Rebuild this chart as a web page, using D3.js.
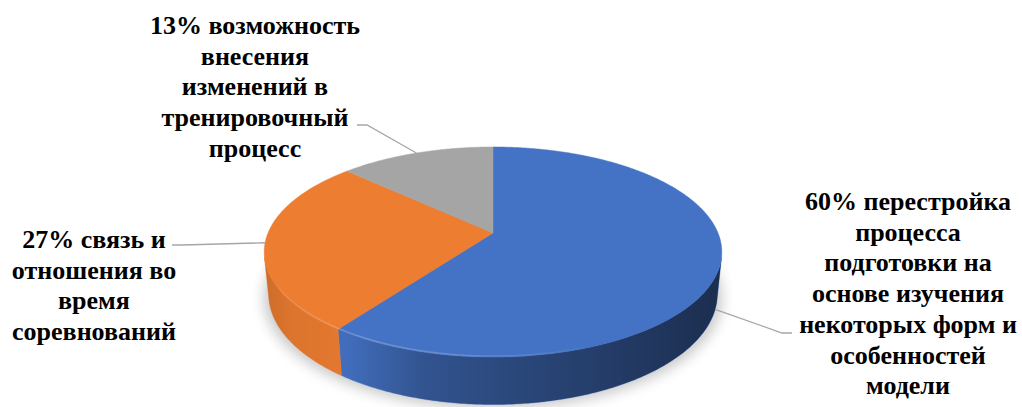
<!DOCTYPE html>
<html>
<head>
<meta charset="utf-8">
<script src="https://cdn.jsdelivr.net/npm/d3@7"></script>
</head>
<body style="margin:0;background:#fff">
<svg id="chart" width="1022" height="407" style="display:block;font-family:'Liberation Serif';font-weight:bold"></svg>
<script>
// Survey answers: share of respondents per answer (percent)
const categories = [
  "перестройка процесса подготовки на основе изучения некоторых форм и особенностей модели",
  "связь и отношения во время соревнований",
  "возможность внесения изменений в тренировочный процесс"
];
const values = [60, 27, 13];
// How each category label is broken into lines
const labelLines = [
  ["перестройка", "процесса", "подготовки на", "основе изучения", "некоторых форм и", "особенностей", "модели"],
  ["связь и", "отношения во", "время", "соревнований"],
  ["возможность", "внесения", "изменений в", "тренировочный", "процесс"]
];
const colors = ["#4472C4", "#ED7D31", "#A5A5A5"];

const W = 1022, H = 407;
const svg = d3.select("#chart");

// ---- 3D pie geometry (perspective view of a tilted disc) ----
const cx = 493, cy = 233;      // screen position of the disc centre
const S = 225;                 // screen radius scale
const sinA = 0.4516, cosA = Math.sqrt(1 - sinA * sinA); // elevation of the view
const k = 0.203;               // radius / camera distance (perspective strength)
const h = 0.21;                // thickness of the disc (in radii)

// phi: clockwise from 12 o'clock; lvl: 0 = top face, -h = bottom
function project(phi, lvl) {
  const x = Math.sin(phi), z = -Math.cos(phi), y = lvl;
  const w = 1 - k * (z * cosA + y * sinA);
  const v = y * cosA - z * sinA;
  return [cx + S * x / w, cy - S * v / w];
}
function projectCenter(lvl) {
  const w = 1 - k * (lvl * sinA);
  return [cx, cy - S * (lvl * cosA) / w];
}
function rim(a0, a1, lvl) {
  const n = Math.max(2, Math.ceil(Math.abs(a1 - a0) / 0.01));
  return d3.range(n + 1).map(i => project(a0 + (a1 - a0) * i / n, lvl));
}

const arcs = d3.pie().sort(null).value(d => d).startAngle(0).endAngle(2 * Math.PI)(values);
const line = d3.line();

const defs = svg.append("defs");
// soft shadow under the disc
defs.append("filter").attr("id", "blur").attr("x", "-20%").attr("y", "-40%").attr("width", "140%").attr("height", "180%")
  .append("feGaussianBlur").attr("stdDeviation", 7);
// side shading: light from the left
const shade = defs.append("linearGradient").attr("id", "shade")
  .attr("gradientUnits", "userSpaceOnUse").attr("x1", 263).attr("x2", 724).attr("y1", 0).attr("y2", 0);
[[0, 0.14], [0.06, 0.07], [0.18, 0.04], [0.35, 0.27], [0.6, 0.4], [1, 0.6]].forEach(([o, a]) =>
  shade.append("stop").attr("offset", o).attr("stop-color", "#000").attr("stop-opacity", a));
// rim highlight along the front edge
const gloss = defs.append("linearGradient").attr("id", "gloss")
  .attr("gradientUnits", "userSpaceOnUse").attr("x1", 263).attr("x2", 724).attr("y1", 0).attr("y2", 0);
[[0, 0.05], [0.2, 0.22], [0.45, 0.18], [0.7, 0.02], [1, 0]].forEach(([o, a]) =>
  gloss.append("stop").attr("offset", o).attr("stop-color", "#fff").attr("stop-opacity", a));

// shadow
const bottomRim = rim(0, 2 * Math.PI, -h);
svg.append("path")
  .attr("d", line(bottomRim.map(([x, y]) => [cx + (x - cx) * 1.02, y + 4])) + "Z")
  .attr("fill", "#000").attr("opacity", 0.22).attr("filter", "url(#blur)");

// visible part of the outer wall
const vis0 = Math.acos(-k / cosA), vis1 = 2 * Math.PI - vis0;
const walls = svg.append("g");
arcs.forEach((a, i) => {
  const a0 = Math.max(a.startAngle, vis0), a1 = Math.min(a.endAngle, vis1);
  if (a1 <= a0) return;
  const pts = rim(a0, a1, 0).concat(rim(a1, a0, -h));
  const d = line(pts) + "Z";
  walls.append("path").attr("d", d).attr("fill", colors[i]).attr("stroke", colors[i]).attr("stroke-width", 0.5);
  walls.append("path").attr("d", d).attr("fill", "url(#shade)");
});

// top faces
const tops = svg.append("g");
arcs.forEach((a, i) => {
  const pts = [projectCenter(0)].concat(rim(a.startAngle, a.endAngle, 0));
  tops.append("path").attr("d", line(pts) + "Z").attr("fill", colors[i])
    .attr("stroke", colors[i]).attr("stroke-width", 0.5).attr("stroke-linejoin", "round");
});
// bevel highlight
svg.append("path").attr("d", line(rim(vis0 + 1.0, vis1 - 0.3, 0).map(([x, y]) => [x, y - 1])))
  .attr("fill", "none").attr("stroke", "url(#gloss)").attr("stroke-width", 1.5);

// ---- labels with leader lines ----
const lineH = 30.7;
const labelLayout = [
  { x: 908, y: 210, leader: [[792, 333], [782, 333]], lvl: -h },
  { x: 94,  y: 248, leader: [[172, 245], [182, 245]], lvl: 0 },
  { x: 255, y: 34,  leader: [[357, 125], [367, 125]], lvl: 0 }
];
const leaders = svg.append("g").attr("fill", "none").attr("stroke", "#A6A6A6").attr("stroke-width", 1.3);
const labels = svg.append("g").attr("font-family", "Liberation Serif").attr("font-weight", "bold");
arcs.forEach((a, i) => {
  const L = labelLayout[i];
  const mid = (a.startAngle + a.endAngle) / 2;
  const end = project(mid, L.lvl);
  leaders.append("path").attr("d", line(L.leader.concat([end])));
  labelLines[i].forEach((s, j) => {
    labels.append("text")
      .attr("x", L.x).attr("y", L.y + j * lineH)
      .style("font-family", '"Liberation Serif"').style("font-weight", "bold").style("font-size", "26px")
      .style("fill", "#000").style("text-anchor", "middle")
      .text(j === 0 ? `${values[i]}% ${s}` : s);
  });
});
</script>
</body>
</html>
